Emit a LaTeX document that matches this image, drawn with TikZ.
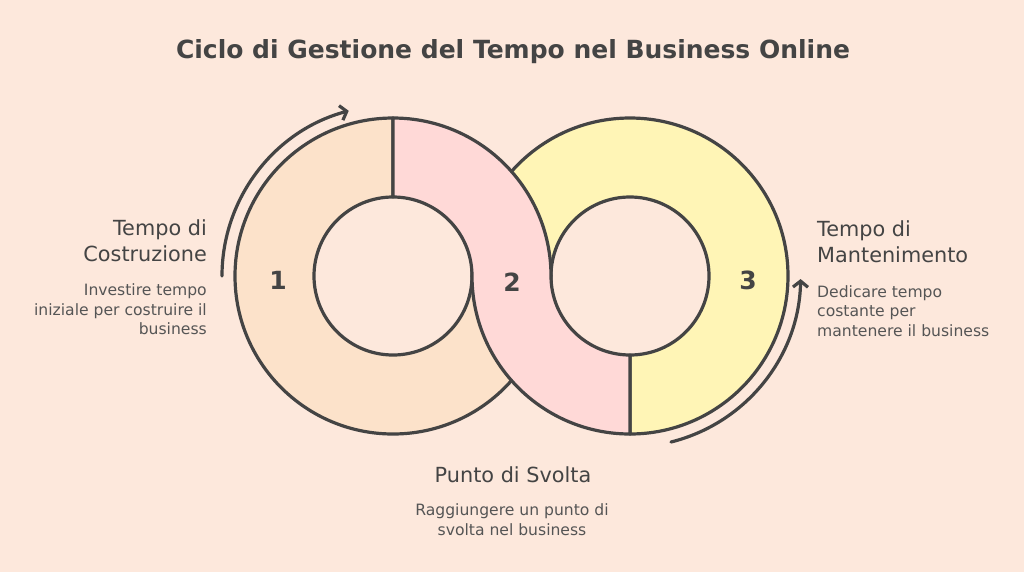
\documentclass[tikz,border=0pt]{standalone}
\usepackage{fontspec}
\setmainfont{DejaVu Sans}
\usetikzlibrary{arrows.meta}
\definecolor{bgpeach}{HTML}{FDE8DC}
\definecolor{stageone}{HTML}{FCE2CA}
\definecolor{stagetwo}{HTML}{FFD9D7}
\definecolor{stagethree}{HTML}{FFF5B6}
\definecolor{ink}{HTML}{444444}
\definecolor{inksoft}{HTML}{555555}
\begin{document}
\begin{tikzpicture}[scale=0.35146]
\tikzstyle{every node}+=[inner sep=0pt, text=ink]
\tikzstyle{ring}=[draw=ink, line width=3.2pt, line join=round]
\tikzstyle{head}=[font=\fontsize{20.8}{26}\selectfont]
\tikzstyle{desc}=[font=\fontsize{15.6}{19.5}\selectfont, text=inksoft]
\tikzstyle{num}=[font=\bfseries\fontsize{25}{25}\selectfont]
\tikzstyle{loop}=[draw=ink, line width=3.2pt, line cap=round, -{Straight Barb[length=6pt,width=15pt]}]
\useasboundingbox (0,0) rectangle (102.4,-57.2);
\fill [bgpeach] (0,0) rectangle (102.4,-57.2);
\draw (51.3,-5.2) node (title) {\bfseries\fontsize{25}{25}\selectfont Ciclo di Gestione del Tempo nel Business Online};
% stage 1
\fill [stageone, ring] (39.3,-11.8) arc (90:360:15.8) -- (47.2,-27.6) arc (0:-270:7.9) -- cycle;
% stage 3
\fill [stagethree, ring] (63.0,-43.4) arc (-90:180:15.8) -- (55.1,-27.6) arc (180:-90:7.9) -- cycle;
% stage 2
\fill [stagetwo, ring] (39.3,-11.8) arc (90:0:15.8) arc (180:270:7.9) -- (63.0,-43.4) arc (270:180:15.8) arc (0:90:7.9) -- cycle;
\draw (27.8,-28.0) node [num] (one) {1};
\draw (51.2,-28.2) node [num] (two) {2};
\draw (74.8,-28.0) node [num] (three) {3};
\draw [loop] (22.2,-27.6) arc (180:105:17.1);
\draw [loop] (67.1,-44.2) arc (-76:-1:17.1);
\draw (20.7,-24.1) node [head, anchor=east, align=right] (costruzione) {Tempo di\\Costruzione};
\draw (20.7,-30.95) node [desc, anchor=east, align=right] (costruzionetxt) {Investire tempo\\iniziale per costruire il\\business};
\draw (81.7,-24.15) node [head, anchor=west, align=left] (mantenimento) {Tempo di\\Mantenimento};
\draw (81.7,-31.1) node [desc, anchor=west, align=left] (mantenimentotxt) {Dedicare tempo\\costante per\\mantenere il business};
\draw (51.3,-47.5) node [head] (svolta) {Punto di Svolta};
\draw (51.2,-51.95) node [desc, align=center] (svoltatxt) {Raggiungere un punto di\\svolta nel business};
\end{tikzpicture}
\end{document}
